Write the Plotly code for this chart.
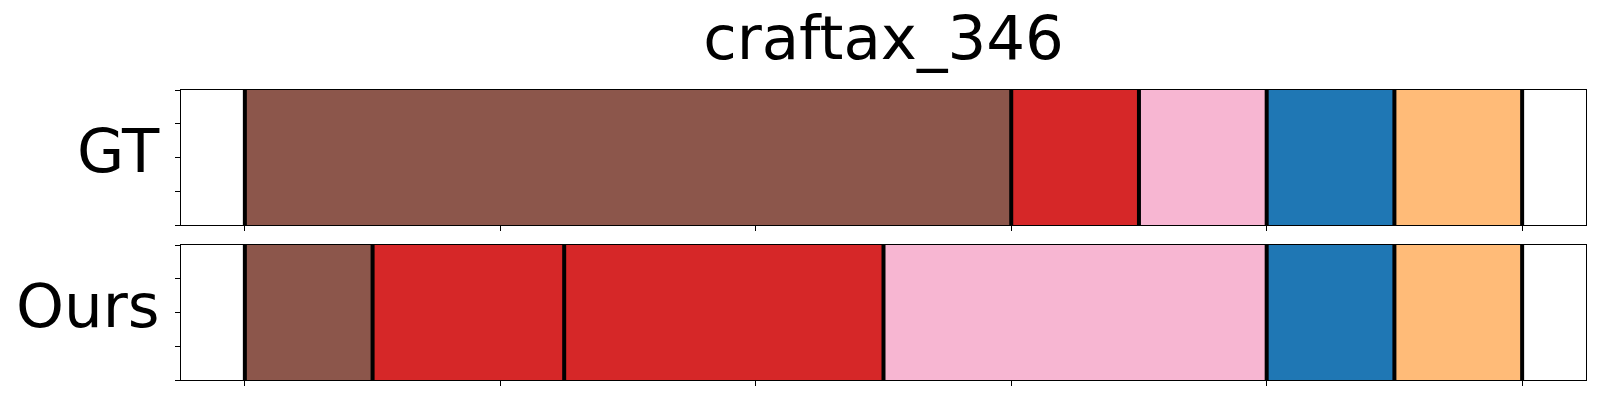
import plotly.graph_objects as go

# ---- data ----
title_text = "craftax_346"
row_labels = ["GT", "Ours"]

gt_bounds = [0, 3.0, 3.5, 4.0, 4.5, 5.0]
gt_colors = ["#8c564b", "#d62728", "#f7b6d2", "#1f77b4", "#ffbb78"]

ours_bounds = [0, 0.5, 1.25, 2.5, 4.0, 4.5, 5.0]
ours_colors = ["#8c564b", "#d62728", "#d62728", "#f7b6d2", "#1f77b4", "#ffbb78"]

x_ticks = [0, 1, 2, 3, 4, 5]
y_ticks = [0, 0.25, 0.5, 0.75, 1.0]
x_range = [-0.25, 5.25]

rows = [(gt_bounds, gt_colors, "x", "y"), (ours_bounds, ours_colors, "x2", "y2")]

fig = go.Figure()
for bounds, colors, xa, ya in rows:
    starts = bounds[:-1]
    lengths = [b - a for a, b in zip(bounds[:-1], bounds[1:])]
    fig.add_trace(go.Bar(
        y=[0.5] * len(starts), x=lengths, base=starts, orientation="h",
        width=1.0, marker=dict(color=colors, line=dict(width=0)),
        xaxis=xa, yaxis=ya, showlegend=False, hoverinfo="skip"))
    for b in bounds:
        fig.add_trace(go.Scatter(
            x=[b, b], y=[0, 1], mode="lines",
            line=dict(color="black", width=4),
            xaxis=xa, yaxis=ya, showlegend=False, hoverinfo="skip"))

axis_common = dict(showline=True, linecolor="black", linewidth=1.3, mirror=True,
                   ticks="outside", ticklen=5, tickwidth=1, tickcolor="black",
                   showgrid=False, zeroline=False, showticklabels=False)

top_dom = [155 / 290, 1.0]
bot_dom = [0.0, 135 / 290]

fig.update_layout(
    width=1592, height=392,
    margin=dict(l=173, r=14, t=82, b=20),
    plot_bgcolor="white", paper_bgcolor="white",
    barmode="overlay", bargap=0,
    font=dict(family="DejaVu Sans", color="black"),
    title=dict(text=title_text, x=0.5, xref="paper", xanchor="center",
               y=1, yref="paper", yanchor="bottom", pad=dict(b=31),
               font=dict(size=61, family="DejaVu Sans", color="black")),
    xaxis=dict(domain=[0, 1], range=x_range, tickvals=x_ticks, anchor="y", **axis_common),
    yaxis=dict(domain=top_dom, range=[0, 1], tickvals=y_ticks, anchor="x", **axis_common),
    xaxis2=dict(domain=[0, 1], range=x_range, tickvals=x_ticks, anchor="y2", **axis_common),
    yaxis2=dict(domain=bot_dom, range=[0, 1], tickvals=y_ticks, anchor="x2", **axis_common),
)

for lab, ya in zip(row_labels, ["y", "y2"]):
    fig.add_annotation(text=lab, xref="paper", x=0, xshift=-19, xanchor="right",
                       yref=f"{ya} domain", y=0.5, yanchor="middle", yshift=7,
                       showarrow=False, font=dict(size=61, family="DejaVu Sans", color="black"))

fig.write_html("out.html")
